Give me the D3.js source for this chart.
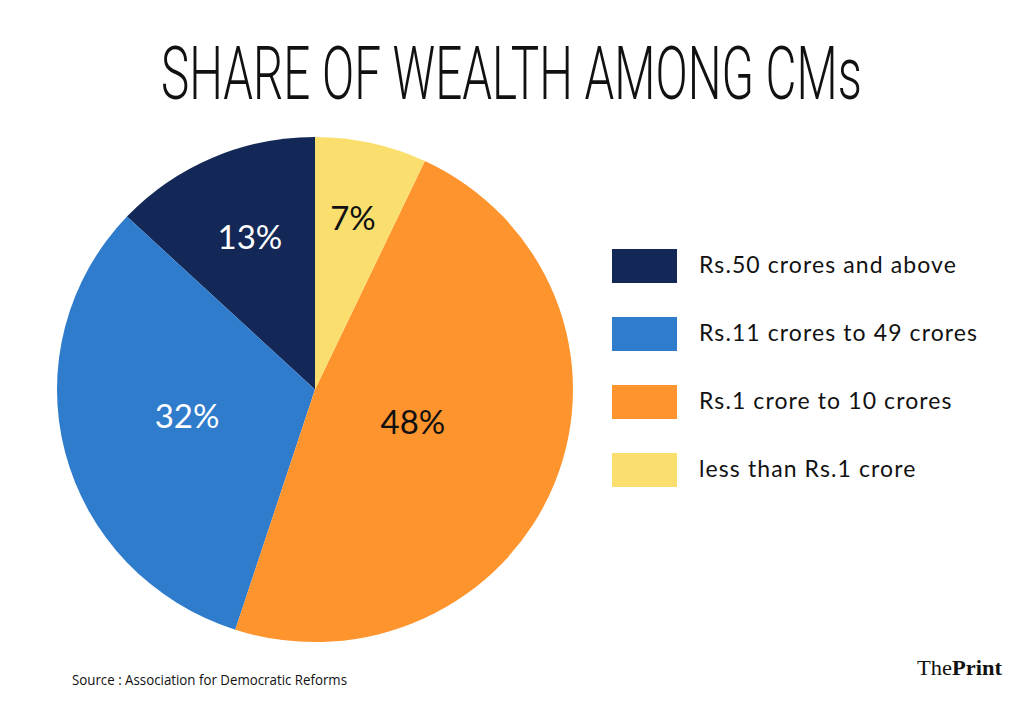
<!DOCTYPE html>
<html>
<head>
<meta charset="utf-8">
<script src="https://cdn.jsdelivr.net/npm/d3@7"></script>
<style>
  html, body { margin: 0; padding: 0; background: #fff; }
  svg { display: block; }
</style>
</head>
<body>
<svg id="chart"></svg>
<script>
// data
var categories = ["Rs.50 crores and above", "Rs.11 crores to 49 crores", "Rs.1 crore to 10 crores", "less than Rs.1 crore"];
var shares = [13, 32, 48, 7];
// order the slices are drawn in, clockwise from 12 o'clock
var sliceOrder = ["less than Rs.1 crore", "Rs.1 crore to 10 crores", "Rs.11 crores to 49 crores", "Rs.50 crores and above"];
var colors = ["#142857", "#2f7bcc", "#fe942d", "#fadf6e"];

var width = 1024, height = 706;
var cx = 315, cy = 389.5, radius = 258;

var svg = d3.select('#chart')
    .attr('width', width)
    .attr('height', height);

var dataSet = categories.map(function(c, i) {
    return { name: c, value: shares[i] };
});

var color = d3.scaleOrdinal().domain(categories).range(colors);

// title, squeezed horizontally to look like a condensed face
var title = svg.append('text')
    .attr('x', 0)
    .attr('y', 0)
    .attr('font-family', 'Roboto')
    .attr('font-weight', 300)
    .attr('font-size', '74px')
    .attr('fill', '#111')
    .text('SHARE OF WEALTH AMONG CMs');
var tw = title.node().getComputedTextLength();
title.attr('transform', 'translate(161,99) scale(' + (701 / tw) + ',1)');

// pie
var pie = d3.pie()
    .value(function(d) { return d.value; })
    .sort(function(a, b) { return sliceOrder.indexOf(a.name) - sliceOrder.indexOf(b.name); });

var arcs = pie(dataSet);
var arc = d3.arc().innerRadius(0).outerRadius(radius);

var g = svg.append('g')
    .attr('transform', 'translate(' + cx + ',' + cy + ')');

g.append('g')
    .attr('transform', 'scale(1,0.979)')
    .selectAll('path').data(arcs)
    .enter()
    .append('path')
    .attr('d', arc)
    .attr('fill', function(d) { return color(d.data.name); });

// labels: smaller slices sit further out, like the original
g.selectAll('text.pct').data(arcs)
    .enter()
    .append('text')
    .attr('class', 'pct')
    .attr('transform', function(d) {
        var share = d.data.value / 100;
        var r = radius * (0.72 - 0.65 * share);
        var p = d3.arc().innerRadius(r).outerRadius(r).centroid(d);
        return 'translate(' + p[0] + ',' + (p[1] * 0.979) + ')';
    })
    .attr('text-anchor', 'middle')
    .attr('dy', '0.2em')
    .attr('font-family', 'Lato')
    .attr('font-size', '33px')
    .attr('fill', function(d) {
        return (d.data.name === categories[0] || d.data.name === categories[1]) ? '#fff' : '#111';
    })
    .text(function(d) { return d.data.value + '%'; });

// legend
var ly = d3.scalePoint().domain(categories).range([266, 470]);

var legend = svg.selectAll('g.legend').data(categories)
    .enter()
    .append('g')
    .attr('class', 'legend')
    .attr('transform', function(d) { return 'translate(612,' + ly(d) + ')'; });

legend.append('rect')
    .attr('x', 0)
    .attr('y', -17)
    .attr('width', 65)
    .attr('height', 34)
    .attr('fill', function(d) { return color(d); });

legend.append('text')
    .attr('x', 87)
    .attr('y', 0)
    .attr('dy', '0.32em')
    .attr('font-family', 'Lato')
    .attr('font-size', '23px')
    .attr('letter-spacing', '1.1px')
    .attr('fill', '#111')
    .text(function(d) { return d; });

// source + logo
svg.append('text')
    .attr('x', 72)
    .attr('y', 685)
    .attr('textLength', 275)
    .attr('lengthAdjust', 'spacingAndGlyphs')
    .attr('font-family', 'Open Sans')
    .attr('font-size', '14px')
    .attr('fill', '#111')
    .text('Source : Association for Democratic Reforms');

var logo = svg.append('text')
    .attr('x', 917)
    .attr('y', 675)
    .attr('textLength', 85)
    .attr('lengthAdjust', 'spacingAndGlyphs')
    .attr('font-family', 'Liberation Serif')
    .attr('font-size', '21px')
    .attr('fill', '#111');
logo.append('tspan').text('The');
logo.append('tspan').attr('font-weight', 'bold').text('Print');
</script>
</body>
</html>
